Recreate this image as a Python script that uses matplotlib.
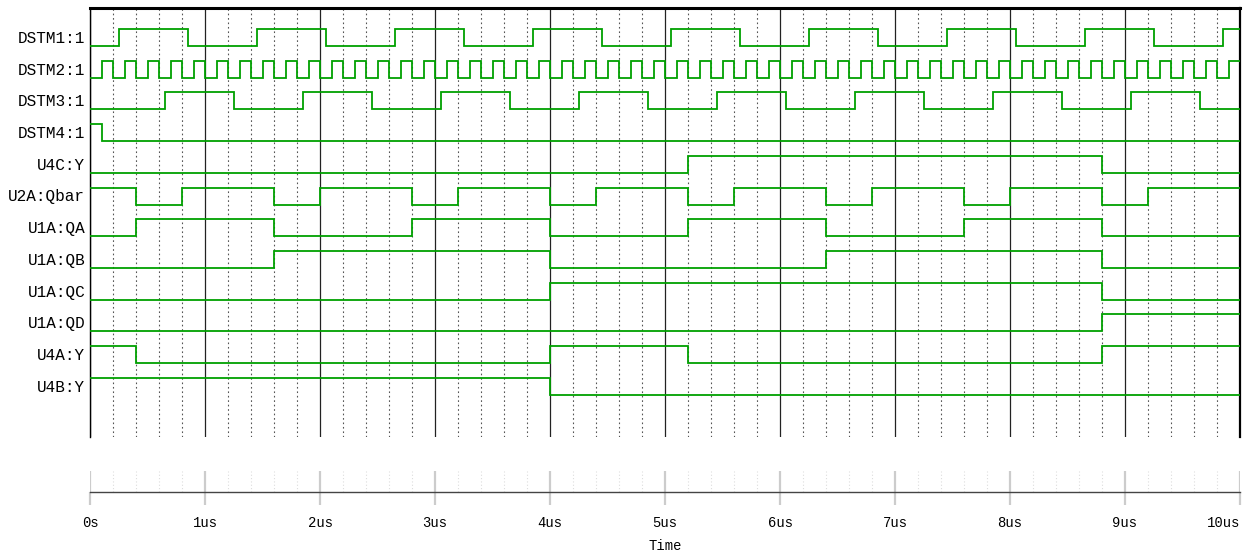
import matplotlib
matplotlib.use("Agg")
import matplotlib.pyplot as plt
from matplotlib.ticker import MultipleLocator

# signal names, top to bottom
names = ["DSTM1:1", "DSTM2:1", "DSTM3:1", "DSTM4:1", "U4C:Y", "U2A:Qbar",
         "U1A:QA", "U1A:QB", "U1A:QC", "U1A:QD", "U4A:Y", "U4B:Y"]

# level at t=0 and toggle times (us) for every trace
start = [0, 0, 0, 1, 0, 1, 0, 0, 0, 0, 1, 1]

dstm1 = [0.25, 0.85, 1.45, 2.05, 2.65, 3.25, 3.85, 4.45, 5.05, 5.65,
         6.25, 6.85, 7.45, 8.05, 8.65, 9.25, 9.85]
dstm2 = [0.1, 0.2, 0.3, 0.4, 0.5, 0.6, 0.7, 0.8, 0.9, 1.0,
         1.1, 1.2, 1.3, 1.4, 1.5, 1.6, 1.7, 1.8, 1.9, 2.0,
         2.1, 2.2, 2.3, 2.4, 2.5, 2.6, 2.7, 2.8, 2.9, 3.0,
         3.1, 3.2, 3.3, 3.4, 3.5, 3.6, 3.7, 3.8, 3.9, 4.0,
         4.1, 4.2, 4.3, 4.4, 4.5, 4.6, 4.7, 4.8, 4.9, 5.0,
         5.1, 5.2, 5.3, 5.4, 5.5, 5.6, 5.7, 5.8, 5.9, 6.0,
         6.1, 6.2, 6.3, 6.4, 6.5, 6.6, 6.7, 6.8, 6.9, 7.0,
         7.1, 7.2, 7.3, 7.4, 7.5, 7.6, 7.7, 7.8, 7.9, 8.0,
         8.1, 8.2, 8.3, 8.4, 8.5, 8.6, 8.7, 8.8, 8.9, 9.0,
         9.1, 9.2, 9.3, 9.4, 9.5, 9.6, 9.7, 9.8, 9.9]
dstm3 = [0.65, 1.25, 1.85, 2.45, 3.05, 3.65, 4.25, 4.85, 5.45, 6.05,
         6.65, 7.25, 7.85, 8.45, 9.05, 9.65]
dstm4 = [0.1]
u4c = [5.2, 8.8]
qbar = [0.4, 0.8, 1.6, 2.0, 2.8, 3.2, 4.0, 4.4, 5.2, 5.6, 6.4, 6.8,
        7.6, 8.0, 8.8, 9.2]
qa = [0.4, 1.6, 2.8, 4.0, 5.2, 6.4, 7.6, 8.8]
qb = [1.6, 4.0, 6.4, 8.8]
qc = [4.0, 8.8]
qd = [8.8]
u4a = [0.4, 4.0, 5.2, 8.8]
u4b = [4.0]

edges = [dstm1, dstm2, dstm3, dstm4, u4c, qbar, qa, qb, qc, qd, u4a, u4b]

tick_labels = ["0s", "1us", "2us", "3us", "4us", "5us", "6us", "7us",
               "8us", "9us", "10us"]

W, H = 1247, 552
FONT = "Liberation Mono"
GREEN = "#00a000"

fig = plt.figure(figsize=(W / 100, H / 100), dpi=100)


def px_axes(x0, y0, x1, y1):
    return fig.add_axes([x0 / W, 1 - y1 / H, (x1 - x0) / W, (y1 - y0) / H])


ax = px_axes(90.3, 8, 1240, 437)
ax.set_xlim(0, 10)
ax.set_ylim(437, 8)
ax.xaxis.set_major_locator(MultipleLocator(1))
ax.xaxis.set_minor_locator(MultipleLocator(0.2))
ax.set_yticks([])
ax.tick_params(which="both", length=0, labelbottom=False)
ax.grid(which="major", axis="x", color="#222222", lw=0.9)
ax.grid(which="minor", axis="x", color="#555555", lw=0.8, ls=(0, (1.5, 2.5)))
ax.set_axisbelow(True)
ax.spines["bottom"].set_visible(False)
ax.spines["top"].set_linewidth(2.2)
ax.spines["left"].set_linewidth(1.0)
ax.spines["right"].set_linewidth(1.6)

row_gap = 31.7
low0 = 46
amp = 17
for i, (name, s, e) in enumerate(zip(names, start, edges)):
    xs = [0] + list(e) + [10]
    lv = [s]
    for _ in e:
        lv.append(1 - lv[-1])
    lv.append(lv[-1])
    base = low0 + row_gap * i
    ys = [base - amp * v for v in lv]
    ax.plot(xs, ys, drawstyle="steps-post", color=GREEN, lw=1.3,
            zorder=3, solid_joinstyle="miter")
    ax.text(-0.0045, base - 7.5, name, transform=ax.get_yaxis_transform(),
            ha="right", va="center", fontsize=11.5, family=FONT)

# time axis strip
axb = px_axes(90.3, 471, 1240, 492)
axb.set_xlim(0, 10)
axb.set_ylim(0, 1)
axb.set_yticks([])
axb.xaxis.set_major_locator(MultipleLocator(1))
axb.xaxis.set_minor_locator(MultipleLocator(0.2))
for sp in ["top", "left", "right"]:
    axb.spines[sp].set_visible(False)
axb.spines["bottom"].set_color("#444444")
axb.spines["bottom"].set_linewidth(1.0)
axb.grid(which="major", axis="x", color="#cccccc", lw=1.6)
axb.grid(which="minor", axis="x", color="#dddddd", lw=0.8, ls=(0, (1, 2)))
axb.tick_params(which="major", length=9, width=1.6, color="#cccccc", pad=8)
axb.tick_params(which="minor", length=0)
axb.set_xticks(range(11))
axb.set_xticklabels(tick_labels, family=FONT, fontsize=10)
axb.get_xticklabels()[-1].set_ha("right")
axb.set_xlabel("Time", family=FONT, fontsize=10, labelpad=7)

fig.savefig("out.png", dpi=100)
